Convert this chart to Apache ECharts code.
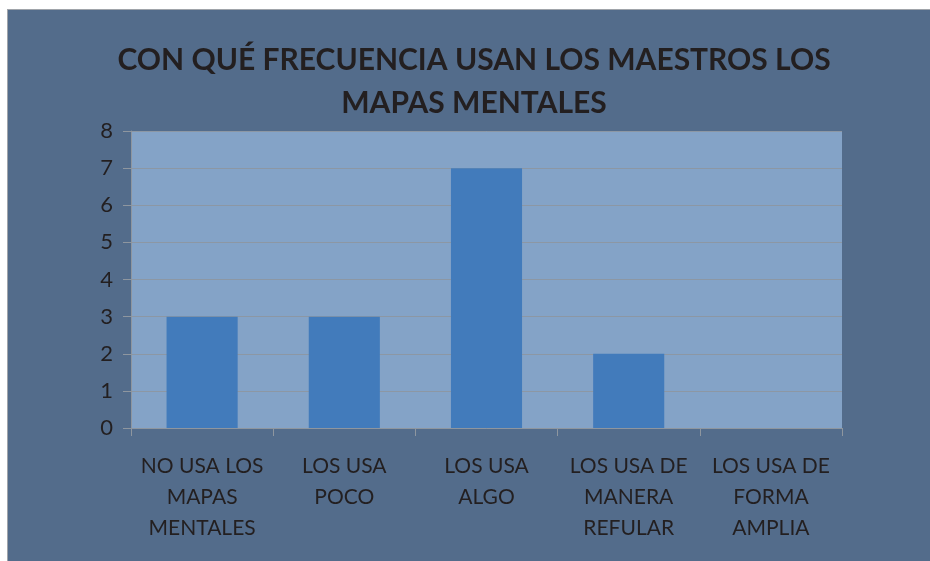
<!DOCTYPE html>
<html>
<head>
<meta charset="utf-8">
<script src="https://cdn.jsdelivr.net/npm/echarts@6/dist/echarts.min.js"></script>
<style>
  html, body { margin: 0; padding: 0; background: #ffffff; }
  #chart {
    position: absolute;
    left: 7px;
    top: 9px;
    width: 923px;
    height: 552px;
    border-left: 1px solid #a0a4aa;
    border-top: 1px solid #a0a4aa;
    background-color: #536c8b;
  }
</style>
</head>
<body>
<div id="chart"></div>
<script>
// datos de la grafica
const categorias = [
  'NO USA LOS\nMAPAS\nMENTALES',
  'LOS USA\nPOCO',
  'LOS USA\nALGO',
  'LOS USA DE\nMANERA\nREFULAR',
  'LOS USA DE\nFORMA\nAMPLIA'
];
const valores = [3, 3, 7, 2, 0];
const titulo = 'CON QUÉ FRECUENCIA USAN LOS MAESTROS LOS\nMAPAS MENTALES';

const chart = echarts.init(document.getElementById('chart'));
chart.setOption({
  animation: false,
  title: {
    text: titulo,
    left: 461,
    top: 24,
    textAlign: 'center',
    textStyle: {
      fontFamily: 'Lato',
      fontWeight: 'bold',
      fontSize: 30,
      lineHeight: 43,
      color: '#231f20'
    }
  },
  grid: {
    left: 123,
    right: 89,
    top: 121,
    bottom: 134,
    show: true,
    backgroundColor: '#84a3c7',
    borderWidth: 0
  },
  xAxis: {
    type: 'category',
    data: categorias,
    axisLine: { show: true, lineStyle: { color: '#8e969f', width: 1 } },
    axisTick: { show: true, alignWithLabel: false, length: 8, lineStyle: { color: '#8e969f' } },
    axisLabel: {
      interval: 0,
      margin: 23,
      fontFamily: 'Lato',
      fontSize: 21,
      lineHeight: 31,
      color: '#231f20'
    }
  },
  yAxis: {
    type: 'value',
    min: 0,
    max: 8,
    interval: 1,
    axisLine: { show: true, lineStyle: { color: '#8e969f', width: 1 } },
    axisTick: { show: true, length: 8, lineStyle: { color: '#8e969f' } },
    axisLabel: {
      margin: 18,
      fontFamily: 'Lato',
      fontSize: 22,
      color: '#231f20'
    },
    splitLine: { show: true, lineStyle: { color: '#8c97a4', width: 1 } }
  },
  series: [
    {
      type: 'bar',
      data: valores,
      barWidth: '50%',
      itemStyle: { color: '#427bbb' }
    }
  ]
});
</script>
</body>
</html>
